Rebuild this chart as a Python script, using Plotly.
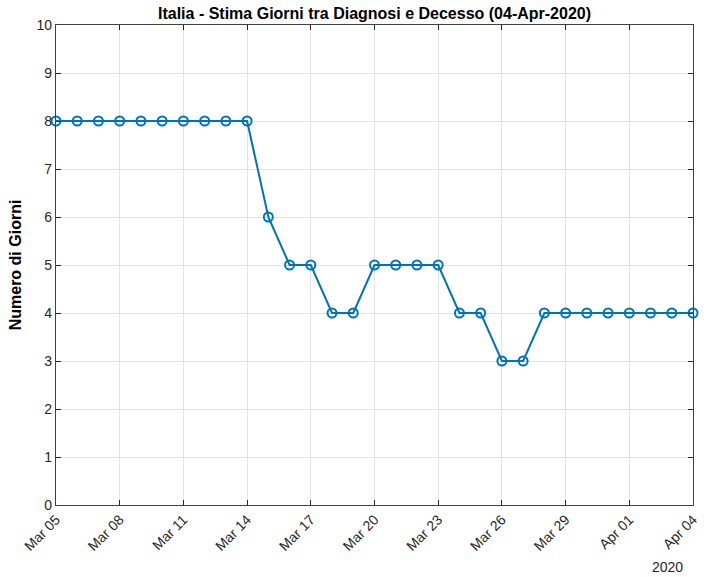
import plotly.graph_objects as go
import pandas as pd

dates = pd.date_range("2020-03-05", "2020-04-04", freq="D").strftime("%Y-%m-%d").tolist()
giorni = [8, 8, 8, 8, 8, 8, 8, 8, 8, 8,
          6, 5, 5, 4, 4, 5, 5, 5, 5, 4, 4, 3, 3,
          4, 4, 4, 4, 4, 4, 4, 4]
tick_dates = ["2020-03-05", "2020-03-08", "2020-03-11", "2020-03-14", "2020-03-17",
              "2020-03-20", "2020-03-23", "2020-03-26", "2020-03-29", "2020-04-01", "2020-04-04"]
tick_labels = ["Mar 05", "Mar 08", "Mar 11", "Mar 14", "Mar 17", "Mar 20",
               "Mar 23", "Mar 26", "Mar 29", "Apr 01", "Apr 04"]
y_ticks = list(range(0, 11))

FONT = "Liberation Sans, Arial, Helvetica, sans-serif"
BLUE = "#0072BD"

fig = go.Figure()
fig.add_trace(go.Scatter(
    x=dates, y=giorni, mode="lines+markers",
    line=dict(color=BLUE, width=2),
    marker=dict(symbol="circle-open", size=9, color=BLUE, line=dict(width=2, color=BLUE)),
    showlegend=False, cliponaxis=False,
))

axis_common = dict(
    showline=True, linecolor="#404040", linewidth=1.2, mirror="ticks",
    ticks="inside", ticklen=5, tickcolor="#262626",
    showgrid=True, gridcolor="#e3e3e3", gridwidth=1, zeroline=False,
    tickfont=dict(family=FONT, size=14, color="#262626"),
    automargin=False,
)

fig.update_xaxes(
    range=["2020-03-05", "2020-04-04"], tickvals=tick_dates, ticktext=tick_labels,
    tickangle=-45, **axis_common,
)
fig.update_yaxes(
    range=[0, 10], tickvals=y_ticks,
    title=dict(text="<b>Numero di Giorni</b>", font=dict(family=FONT, size=16, color="#000"), standoff=10),
    **axis_common,
)

fig.update_layout(
    width=704, height=577,
    margin=dict(l=56, r=11, t=25, b=72),
    paper_bgcolor="white", plot_bgcolor="white",
    title=dict(text="<b>Italia - Stima Giorni tra Diagnosi e Decesso (04-Apr-2020)</b>",
               font=dict(family=FONT, size=16, color="#000"),
               x=0.5, xref="paper", xanchor="center", y=1 - 13 / 577, yanchor="middle"),
    annotations=[dict(text="2020", xref="paper", yref="paper", x=1.0 - 8 / 637, y=-62 / 480,
                      xanchor="right", yanchor="middle", showarrow=False,
                      font=dict(family=FONT, size=14, color="#262626"))],
)

fig.write_html("out.html", config={"displayModeBar": False},
               post_script="document.body.style.margin='0';")
